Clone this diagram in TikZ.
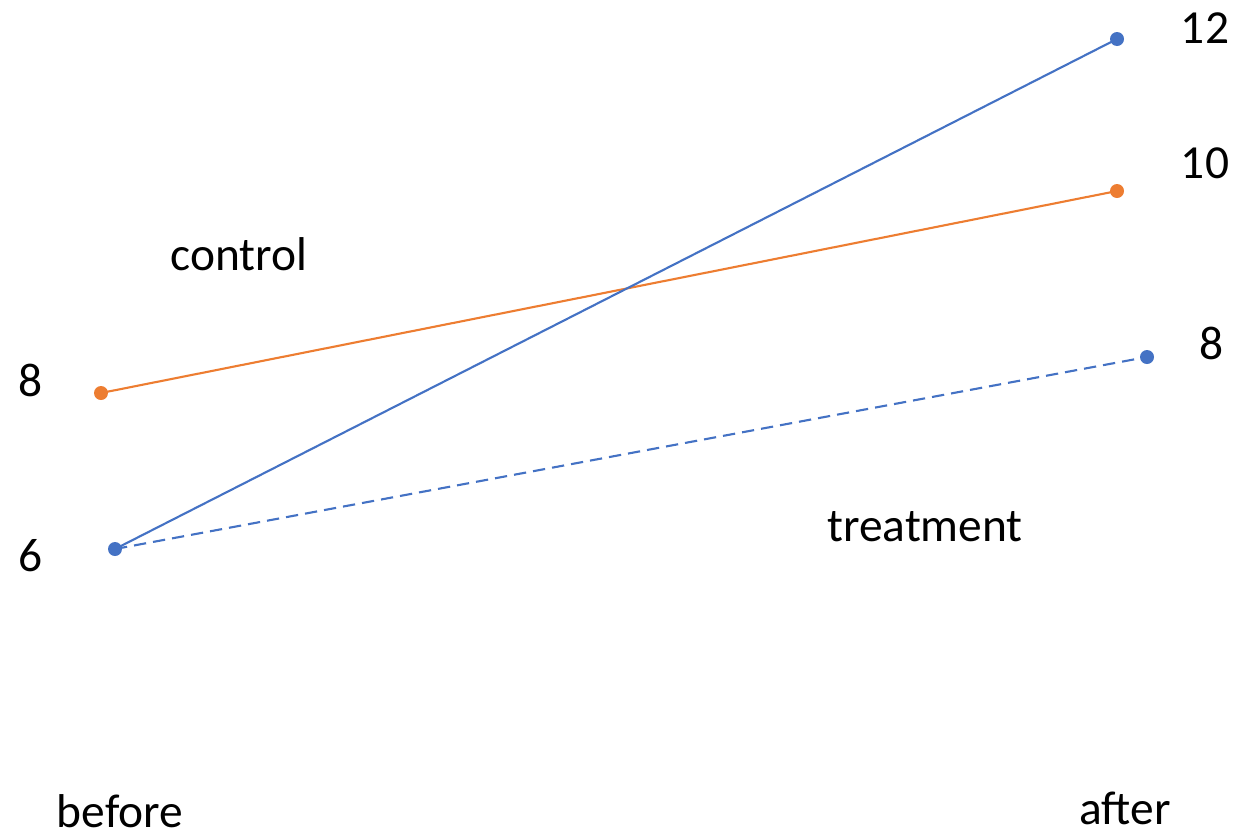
\documentclass[tikz,border=0pt]{standalone}
\usepackage{fontspec}
\setmainfont{Carlito}
\definecolor{cblue}{HTML}{4472C4}
\definecolor{corange}{HTML}{ED7D31}
\begin{document}
\begin{tikzpicture}[x=0.02cm,y=-0.02cm,
  dot/.style={circle,fill=#1,inner sep=0pt,minimum size=0.28cm},
  lab/.style={font=\fontsize{27}{32}\selectfont,inner sep=0pt},
  ln/.style={line width=1.2pt,draw=#1}]
\useasboundingbox (0,0) rectangle (1248,836);
\node[dot=corange] (o1) at (101,393) {};
\node[dot=corange] (o2) at (1117,191) {};
\node[dot=cblue] (b1) at (115,549) {};
\node[dot=cblue] (b2) at (1117,39) {};
\node[dot=cblue] (b3) at (1147,357) {};
\draw[ln=corange] (o1.center) -- (o2.center);
\draw[ln=cblue] (b1.center) -- (b2.center);
\draw[ln=cblue,dash pattern=on 7pt off 4pt] (b1.center) -- (b3.center);
\node[lab] (t12) at (1205,28) {12};
\node[lab] (t10) at (1205,163) {10};
\node[lab] (t8r) at (1212,343) {8};
\node[lab] (t8l) at (31,380) {8};
\node[lab] (t6) at (31,556) {6};
\node[lab] (tc) at (239,254) {control};
\node[lab] (tt) at (925,527) {treatment};
\node[lab] (tb) at (120,811) {before};
\node[lab] (ta) at (1125,808) {after};
\end{tikzpicture}
\end{document}
